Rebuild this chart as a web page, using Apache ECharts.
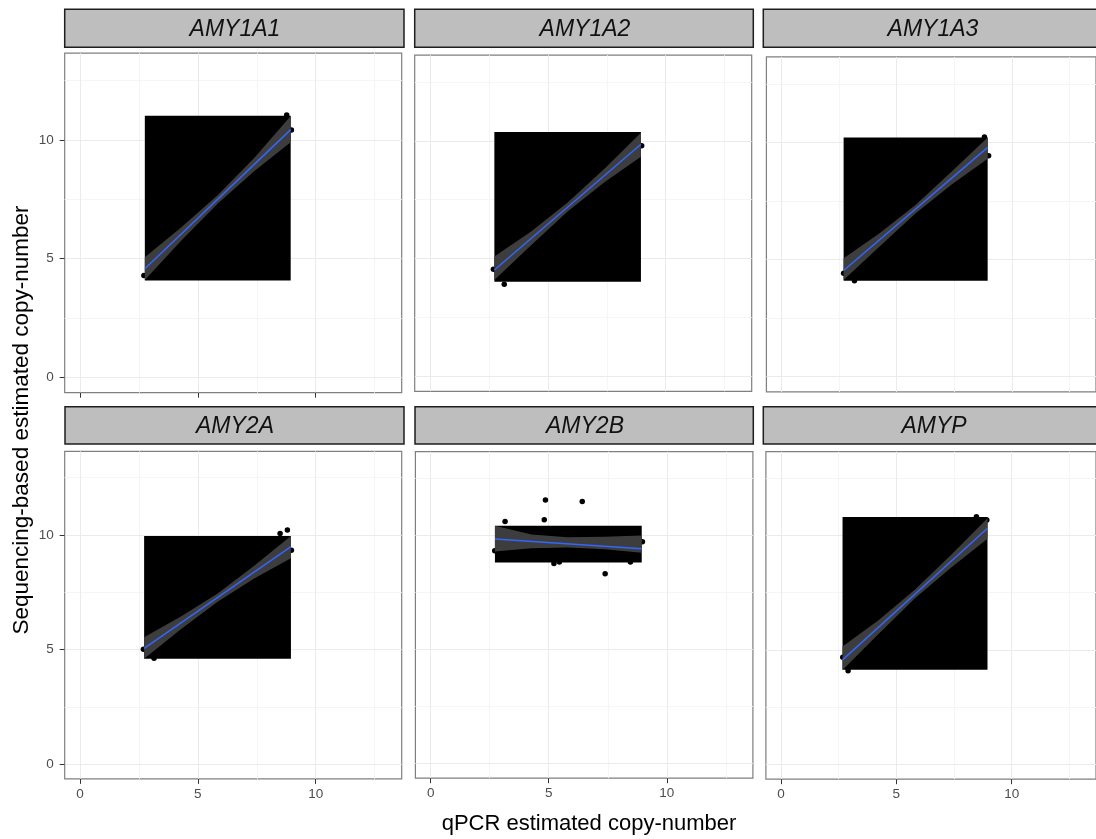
<!DOCTYPE html>
<html><head><meta charset="utf-8">
<script src="https://cdn.jsdelivr.net/npm/echarts@6/dist/echarts.min.js"></script>
<style>html,body{margin:0;padding:0;background:#fff}#c{width:1096px;height:839px}</style>
</head><body><div id="c"></div>
<script>
// ---------- data ----------
const panelNames = ['AMY1A1', 'AMY1A2', 'AMY1A3', 'AMY2A', 'AMY2B', 'AMYP'];
const tickValues = [0, 5, 10];
const minorValues = [2.5, 7.5, 12.5];
const axisMin = -0.65, axisMax = 13.65;
const xTitle = 'qPCR estimated copy-number';
const yTitle = 'Sequencing-based estimated copy-number';

// observed points [qPCR, sequencing]
const pointsAMY1A1 = [[2.71, 4.29], [8.77, 11.05], [8.97, 10.42]];
const pointsAMY1A2 = [[2.69, 4.54], [3.15, 3.90], [8.98, 9.80]];
const pointsAMY1A3 = [[2.70, 4.42], [3.17, 4.09], [8.81, 10.23], [8.99, 9.43]];
const pointsAMY2A = [[2.69, 5.01], [3.14, 4.62], [8.49, 10.07], [8.80, 10.22], [8.97, 9.33]];
const pointsAMY2B = [[3.15, 10.59], [4.86, 11.53], [4.81, 10.67], [6.42, 11.47], [2.71, 9.31],
  [5.22, 8.75], [5.45, 8.82], [7.39, 8.30], [8.46, 8.82], [8.97, 9.71]];
const pointsAMYP = [[2.68, 4.67], [2.91, 4.09], [8.47, 10.81], [8.92, 10.67]];

// black boxes [xmin, ymin, xmax, ymax]
const boxAMY1A1 = [2.75, 4.08, 8.94, 11.02];
const boxAMY1A2 = [2.73, 4.01, 8.95, 10.38];
const boxAMY1A3 = [2.70, 4.09, 8.95, 10.21];
const boxAMY2A = [2.72, 4.60, 8.95, 9.96];
const boxAMY2B = [2.72, 8.80, 8.94, 10.41];
const boxAMYP = [2.67, 4.13, 8.95, 10.80];

// fitted line ends [[x1,y1],[x2,y2]]
const fitAMY1A1 = [[2.75, 4.57], [8.94, 10.43]];
const fitAMY1A2 = [[2.73, 4.51], [8.95, 9.86]];
const fitAMY1A3 = [[2.70, 4.53], [8.95, 9.79]];
const fitAMY2A = [[2.72, 5.05], [8.95, 9.49]];
const fitAMY2B = [[2.72, 9.83], [8.94, 9.40]];
const fitAMYP = [[2.67, 4.56], [8.95, 10.31]];

// confidence band x, lower, upper
const bandXAMY1A1 = [2.75, 4.30, 5.85, 7.40, 8.94];
const bandLoAMY1A1 = [4.10, 5.76, 7.32, 8.69, 9.90];
const bandHiAMY1A1 = [5.05, 6.32, 7.68, 9.25, 11.00];
const bandXAMY1A2 = [2.73, 4.29, 5.84, 7.40, 8.95];
const bandLoAMY1A2 = [4.09, 5.56, 7.00, 8.24, 9.33];
const bandHiAMY1A2 = [5.08, 6.15, 7.38, 8.82, 10.35];
const bandXAMY1A3 = [2.70, 4.26, 5.83, 7.39, 8.95];
const bandLoAMY1A3 = [4.13, 5.56, 6.98, 8.20, 9.30];
const bandHiAMY1A3 = [5.06, 6.12, 7.34, 8.76, 10.21];
const bandXAMY2A = [2.72, 4.28, 5.84, 7.39, 8.95];
const bandLoAMY2A = [4.60, 5.88, 7.09, 8.10, 8.98];
const bandHiAMY2A = [5.53, 6.44, 7.45, 8.66, 9.96];
const bandXAMY2B = [2.72, 4.27, 5.80, 7.37, 8.94];
const bandLoAMY2B = [9.28, 9.42, 9.45, 9.38, 9.22];
const bandHiAMY2B = [10.41, 10.02, 9.90, 9.92, 9.98];
const bandXAMYP = [2.67, 4.24, 5.81, 7.38, 8.95];
const bandLoAMYP = [4.12, 5.70, 7.25, 8.59, 9.85];
const bandHiAMYP = [5.14, 6.30, 7.63, 9.15, 10.74];

const allPoints = [pointsAMY1A1, pointsAMY1A2, pointsAMY1A3, pointsAMY2A, pointsAMY2B, pointsAMYP];
const allBoxes = [boxAMY1A1, boxAMY1A2, boxAMY1A3, boxAMY2A, boxAMY2B, boxAMYP];
const allFits = [fitAMY1A1, fitAMY1A2, fitAMY1A3, fitAMY2A, fitAMY2B, fitAMYP];
const allBandX = [bandXAMY1A1, bandXAMY1A2, bandXAMY1A3, bandXAMY2A, bandXAMY2B, bandXAMYP];
const allBandLo = [bandLoAMY1A1, bandLoAMY1A2, bandLoAMY1A3, bandLoAMY2A, bandLoAMY2B, bandLoAMYP];
const allBandHi = [bandHiAMY1A1, bandHiAMY1A2, bandHiAMY1A3, bandHiAMY2A, bandHiAMY2B, bandHiAMYP];

// ---------- layout ----------
const FONT = 'Liberation Sans, Arial, Helvetica, sans-serif';
const gridBoxes = [
  [64.7, 53.2, 337, 339.5],
  [414.7, 55.2, 337, 336.1],
  [766.4, 56.9, 335.5, 335],
  [64.7, 451.4, 337, 327.5],
  [415.4, 451.7, 337.5, 326.5],
  [765.9, 451.7, 332.2, 327.5]
];
const stripBoxes = [
  [64.7, 9.3, 339.3, 38],
  [414.7, 9.3, 338.6, 38],
  [763.3, 9.3, 341, 38],
  [65, 406.7, 339, 37.3],
  [415, 406.7, 338.3, 37.3],
  [763.3, 406.7, 341, 37.3]
];
const stripTextX = [235, 585, 933, 235, 585, 934];
const showXTick = [true, false, false, true, true, true];
const showXLabel = [false, false, false, true, true, true];
const showYTick = [true, false, false, true, false, false];

const grids = [], xAxes = [], yAxes = [], series = [];
for (let i = 0; i < 6; i++) {
  const g = gridBoxes[i];
  grids.push({left: g[0], top: g[1], width: g[2], height: g[3], show: true,
    borderColor: '#7F7F7F', borderWidth: 1.2, backgroundColor: 'transparent'});
}
for (let i = 0; i < 6; i++) {
  xAxes.push({type: 'value', gridIndex: i, min: axisMin, max: axisMax, position: 'bottom',
    axisLine: {show: false, onZero: false},
    axisTick: {show: showXTick[i], inside: false, length: 5, lineStyle: {color: '#333', width: 1}, customValues: tickValues},
    axisLabel: {show: showXLabel[i], customValues: tickValues, color: '#4D4D4D', fontSize: 13.5, margin: 8, fontFamily: FONT},
    splitLine: {show: true, lineStyle: {color: '#EBEBEB', width: 1}}, z: 1});
  yAxes.push({type: 'value', gridIndex: i, min: axisMin, max: axisMax, position: 'left',
    axisLine: {show: false, onZero: false},
    axisTick: {show: showYTick[i], inside: false, length: 5, lineStyle: {color: '#333', width: 1}, customValues: tickValues},
    axisLabel: {show: showYTick[i], customValues: tickValues, color: '#4D4D4D', fontSize: 13.5, margin: 11, fontFamily: FONT},
    splitLine: {show: true, lineStyle: {color: '#EBEBEB', width: 1}}, z: 1});
}
for (let i = 0; i < 6; i++) {
  xAxes.push({type: 'value', gridIndex: i, min: axisMin, max: axisMax, position: 'top',
    axisLine: {show: false, onZero: false}, axisTick: {show: false, customValues: minorValues},
    axisLabel: {show: false, customValues: minorValues},
    splitLine: {show: true, lineStyle: {color: '#F5F5F5', width: 1}}, z: 0});
  yAxes.push({type: 'value', gridIndex: i, min: axisMin, max: axisMax, position: 'right',
    axisLine: {show: false, onZero: false}, axisTick: {show: false, customValues: minorValues},
    axisLabel: {show: false, customValues: minorValues},
    splitLine: {show: true, lineStyle: {color: '#F5F5F5', width: 1}}, z: 0});
}
for (let i = 0; i < 6; i++) {
  const bx = allBandX[i], lo = allBandLo[i], hi = allBandHi[i];
  series.push({type: 'scatter', xAxisIndex: i, yAxisIndex: i, data: allPoints[i],
    symbolSize: 5.5, itemStyle: {color: '#000', opacity: 1}, z: 2, silent: true});
  series.push({type: 'custom', xAxisIndex: i, yAxisIndex: i, data: [allBoxes[i]],
    encode: {x: [0, 2], y: [1, 3]}, z: 3, silent: true,
    renderItem: function (params, api) {
      const a = api.coord([api.value(0), api.value(3)]);
      const b = api.coord([api.value(2), api.value(1)]);
      return {type: 'rect', shape: {x: a[0], y: a[1], width: b[0] - a[0], height: b[1] - a[1]},
        style: {fill: '#000'}};
    }});
  series.push({type: 'custom', xAxisIndex: i, yAxisIndex: i,
    data: bx.map((x, k) => [x, lo[k], hi[k]]),
    encode: {x: 0, y: [1, 2]}, z: 4, silent: true,
    renderItem: function (params, api) {
      if (params.dataIndex !== 0) return null;
      const pts = [];
      for (let k = 0; k < bx.length; k++) pts.push(api.coord([bx[k], hi[k]]));
      for (let k = bx.length - 1; k >= 0; k--) pts.push(api.coord([bx[k], lo[k]]));
      return {type: 'polygon', shape: {points: pts}, style: {fill: '#3D3D3D'}};
    }});
  series.push({type: 'line', xAxisIndex: i, yAxisIndex: i, data: allFits[i],
    symbol: 'none', lineStyle: {color: '#3366FF', width: 1.5}, z: 5, silent: true, animation: false});
}

const graphics = [];
for (let i = 0; i < 6; i++) {
  const s = stripBoxes[i];
  graphics.push({type: 'rect', shape: {x: s[0], y: s[1], width: s[2], height: s[3]},
    style: {fill: '#BEBEBE', stroke: '#1E1E1E', lineWidth: 1.5}, z: 10});
  graphics.push({type: 'text', x: stripTextX[i], y: s[1] + s[3] / 2 + 1.5,
    style: {text: panelNames[i], fill: '#111', font: 'italic 23px ' + FONT,
      textAlign: 'center', textVerticalAlign: 'middle'}, z: 11});
}
graphics.push({type: 'text', x: 589, y: 824,
  style: {text: xTitle, fill: '#000', font: '22px ' + FONT, textAlign: 'center', textVerticalAlign: 'middle'}, z: 11});
graphics.push({type: 'text', x: 21.5, y: 420, rotation: Math.PI / 2,
  style: {text: yTitle, fill: '#000', font: '22.5px ' + FONT, textAlign: 'center', textVerticalAlign: 'middle'}, z: 11});

const chart = echarts.init(document.getElementById('c'), null, {renderer: 'canvas'});
chart.setOption({
  animation: false,
  backgroundColor: '#fff',
  textStyle: {fontFamily: FONT},
  grid: grids, xAxis: xAxes, yAxis: yAxes, series: series, graphic: graphics
});
</script></body></html>
